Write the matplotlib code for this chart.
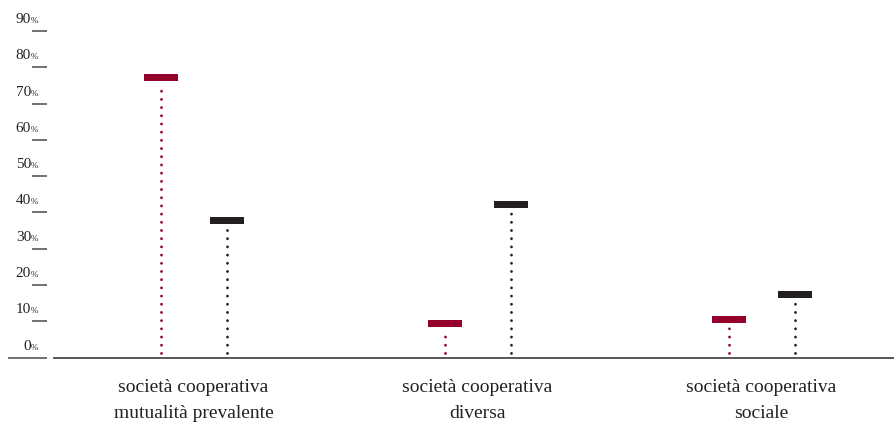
import numpy as np
import matplotlib.pyplot as plt
import matplotlib.transforms as mtransforms

categories = ["società cooperativa\nmutualità prevalente",
              "società cooperativa\ndiversa",
              "società cooperativa\nsociale"]
red_vals = [77.1, 9.3, 10.6]
black_vals = [37.7, 42.3, 17.5]
tick_vals = [0, 10, 20, 30, 40, 50, 60, 70, 80, 90]

RED = "#95002b"
BLACK = "#231f20"
GREY = "#4a4a4a"
SERIF = ["Liberation Serif", "DejaVu Serif"]

W, H = 894, 422
fig = plt.figure(figsize=(W / 100, H / 100), dpi=100)
ax_left, ax_right = 54, 894
ax_bottom, ax_top = 357.5, 31
ax = fig.add_axes([ax_left / W, (H - ax_bottom) / H,
                   (ax_right - ax_left) / W, (ax_bottom - ax_top) / H])

px_per_unit = 284.0
x = np.arange(len(categories))
off = 33 / px_per_unit
half_w = 17 / px_per_unit
px_per_pct = (ax_bottom - ax_top) / 90.0
half_h = 3.5 / px_per_pct

ax.set_xlim(-139.5 / px_per_unit, (894 - 193.5) / px_per_unit)
ax.set_ylim(0, 90)

for xs, vals, col in [(x - off, red_vals, RED), (x + off, black_vals, BLACK)]:
    ax.bar(xs, [2 * half_h] * len(vals), width=2 * half_w,
           bottom=np.array(vals) - half_h, color=col, zorder=3)
    ax.vlines(xs, 1.2, np.array(vals) - half_h - 0.8, colors=col, lw=2.0,
              linestyles=(0, (0.05, 2.9)), capstyle="round", zorder=2)

for s in ["top", "right", "left"]:
    ax.spines[s].set_visible(False)
ax.spines["bottom"].set_color(GREY)
ax.spines["bottom"].set_linewidth(1.3)
ax.set_yticks([])
ax.set_xticks([])

# category labels below the baseline, one text per line
xtrans = ax.get_xaxis_transform()
for xi, lab in zip(x, categories):
    for k, line in enumerate(lab.split("\n")):
        tr = xtrans + mtransforms.ScaledTranslation(0, -(34.5 + 26 * k) / 100, fig.dpi_scale_trans)
        ax.text(xi, 0, line, transform=tr, ha="center", va="baseline",
                fontsize=14, family=SERIF, color="#222222", clip_on=False)

# y axis ticks drawn as short dashes left of the plot, labels above them
ytrans = ax.get_yaxis_transform()
span = ax_right - ax_left
for v in tick_vals:
    x0 = (8 if v == 0 else 32) - ax_left
    ax.plot([x0 / span, (46.7 - ax_left) / span], [v, v],
            transform=ytrans, color=GREY, lw=1.1, clip_on=False, solid_capstyle="butt")
    lab_tr = ytrans + mtransforms.ScaledTranslation(0, 8 / 100, fig.dpi_scale_trans)
    xl = (31 - ax_left) / span
    ax.text(xl, v, str(v), transform=lab_tr, ha="right", va="baseline",
            fontsize=11, family=SERIF, color="#222222", clip_on=False)
    ax.text(xl, v, "%", transform=lab_tr, ha="left", va="baseline",
            fontsize=6.5, family=SERIF, color="#222222", clip_on=False)

fig.savefig("out.png", dpi=100)
